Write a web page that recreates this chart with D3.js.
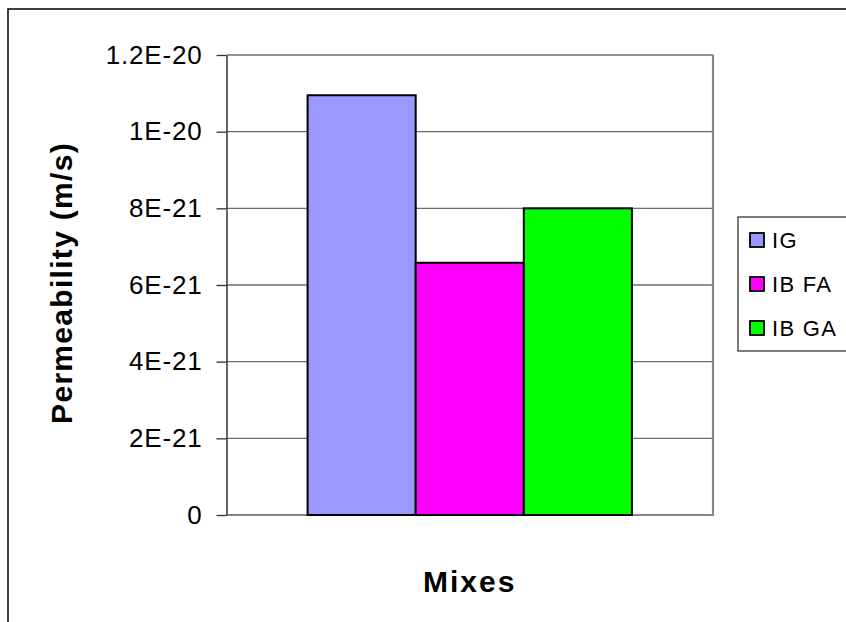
<!DOCTYPE html>
<html>
<head>
<meta charset="utf-8">
<script src="https://cdn.jsdelivr.net/npm/d3@7"></script>
<style>
  html, body { margin: 0; padding: 0; background: #fff; }
  svg { display: block; }
  text { font-family: "Liberation Sans", Arial, sans-serif; fill: #000; }
</style>
</head>
<body>
<svg id="chart" width="846" height="622"></svg>
<script>
// Permeability of the three mixes
const categories = ["Mixes"];
const seriesNames = ["IG", "IB FA", "IB GA"];
const seriesValues = [1.095e-20, 6.58e-21, 8.0e-21];
const seriesColors = ["#9999FF", "#FF00FF", "#00FF00"];
const yTickValues = [0, 2e-21, 4e-21, 6e-21, 8e-21, 1e-20, 1.2e-20];
const yTickLabels = ["0", "2E-21", "4E-21", "6E-21", "8E-21", "1E-20", "1.2E-20"];
const yTitle = "Permeability (m/s)";

const svg = d3.select("#chart");

// outer chart frame
svg.append("rect")
  .attr("x", 8).attr("y", 9)
  .attr("width", 860).attr("height", 640)
  .attr("fill", "#fff")
  .attr("stroke", "#000").attr("stroke-width", 1.5);

const plot = { left: 226.5, right: 713, top: 55, bottom: 515 };

const y = d3.scaleLinear()
  .domain([0, 1.2e-20])
  .range([plot.bottom, plot.top]);

const x = d3.scaleBand()
  .domain(seriesNames)
  .range([plot.left, plot.right])
  .paddingInner(0)
  .paddingOuter(0.75);

// horizontal gridlines
svg.append("g")
  .selectAll("line")
  .data(yTickValues.filter(v => v > 0))
  .join("line")
  .attr("x1", plot.left).attr("x2", plot.right)
  .attr("y1", d => y(d)).attr("y2", d => y(d))
  .attr("stroke", "#6e6e6e").attr("stroke-width", 1.3);

// plot area right and bottom edges
svg.append("path")
  .attr("d", `M${plot.right},${plot.top}V${plot.bottom}H${plot.left}`)
  .attr("fill", "none")
  .attr("stroke", "#858585").attr("stroke-width", 2.2);

// bars
svg.append("g")
  .selectAll("rect")
  .data(seriesNames.map((s, i) => ({ s, v: seriesValues[i], c: seriesColors[i] })))
  .join("rect")
  .attr("x", d => x(d.s))
  .attr("y", d => y(d.v))
  .attr("width", x.bandwidth())
  .attr("height", d => y(0) - y(d.v))
  .attr("fill", d => d.c)
  .attr("stroke", "#000").attr("stroke-width", 2);

// y axis
const yAxis = d3.axisLeft(y)
  .tickValues(yTickValues)
  .tickFormat((d, i) => yTickLabels[i])
  .tickSize(10)
  .tickSizeOuter(0)
  .tickPadding(14);

const gy = svg.append("g")
  .attr("transform", `translate(${plot.left},0)`)
  .call(yAxis);
gy.select(".domain").attr("stroke", "#333").attr("stroke-width", 1.5);
gy.selectAll(".tick line").attr("stroke", "#333").attr("stroke-width", 1.3);
gy.selectAll(".tick text")
  .attr("font-family", "Liberation Sans, Arial, sans-serif")
  .attr("font-size", 26)
  .attr("letter-spacing", 0.8)
  .attr("fill", "#000");

// axis titles
svg.append("text")
  .attr("transform", `translate(72,${(plot.top + plot.bottom) / 2 - 2}) rotate(-90)`)
  .attr("text-anchor", "middle")
  .attr("font-size", 30)
  .attr("font-weight", "bold")
  .attr("letter-spacing", 1.3)
  .text(yTitle);

svg.append("text")
  .attr("x", (plot.left + plot.right) / 2)
  .attr("y", 592)
  .attr("text-anchor", "middle")
  .attr("font-size", 30)
  .attr("font-weight", "bold")
  .attr("letter-spacing", 2)
  .text(categories[0]);

// legend
const legend = svg.append("g");
legend.append("rect")
  .attr("x", 738).attr("y", 217)
  .attr("width", 140).attr("height", 134)
  .attr("fill", "#fff")
  .attr("stroke", "#222").attr("stroke-width", 1.2);

const items = legend.selectAll("g.item")
  .data(seriesNames.map((s, i) => ({ s, c: seriesColors[i] })))
  .join("g")
  .attr("class", "item")
  .attr("transform", (d, i) => `translate(750,${240 + i * 44})`);

items.append("rect")
  .attr("x", 0).attr("y", -7)
  .attr("width", 14).attr("height", 14)
  .attr("fill", d => d.c)
  .attr("stroke", "#000").attr("stroke-width", 1.8);

items.append("text")
  .attr("x", 22).attr("y", 8)
  .attr("font-size", 22)
  .attr("letter-spacing", 1.3)
  .text(d => d.s);
</script>
</body>
</html>
